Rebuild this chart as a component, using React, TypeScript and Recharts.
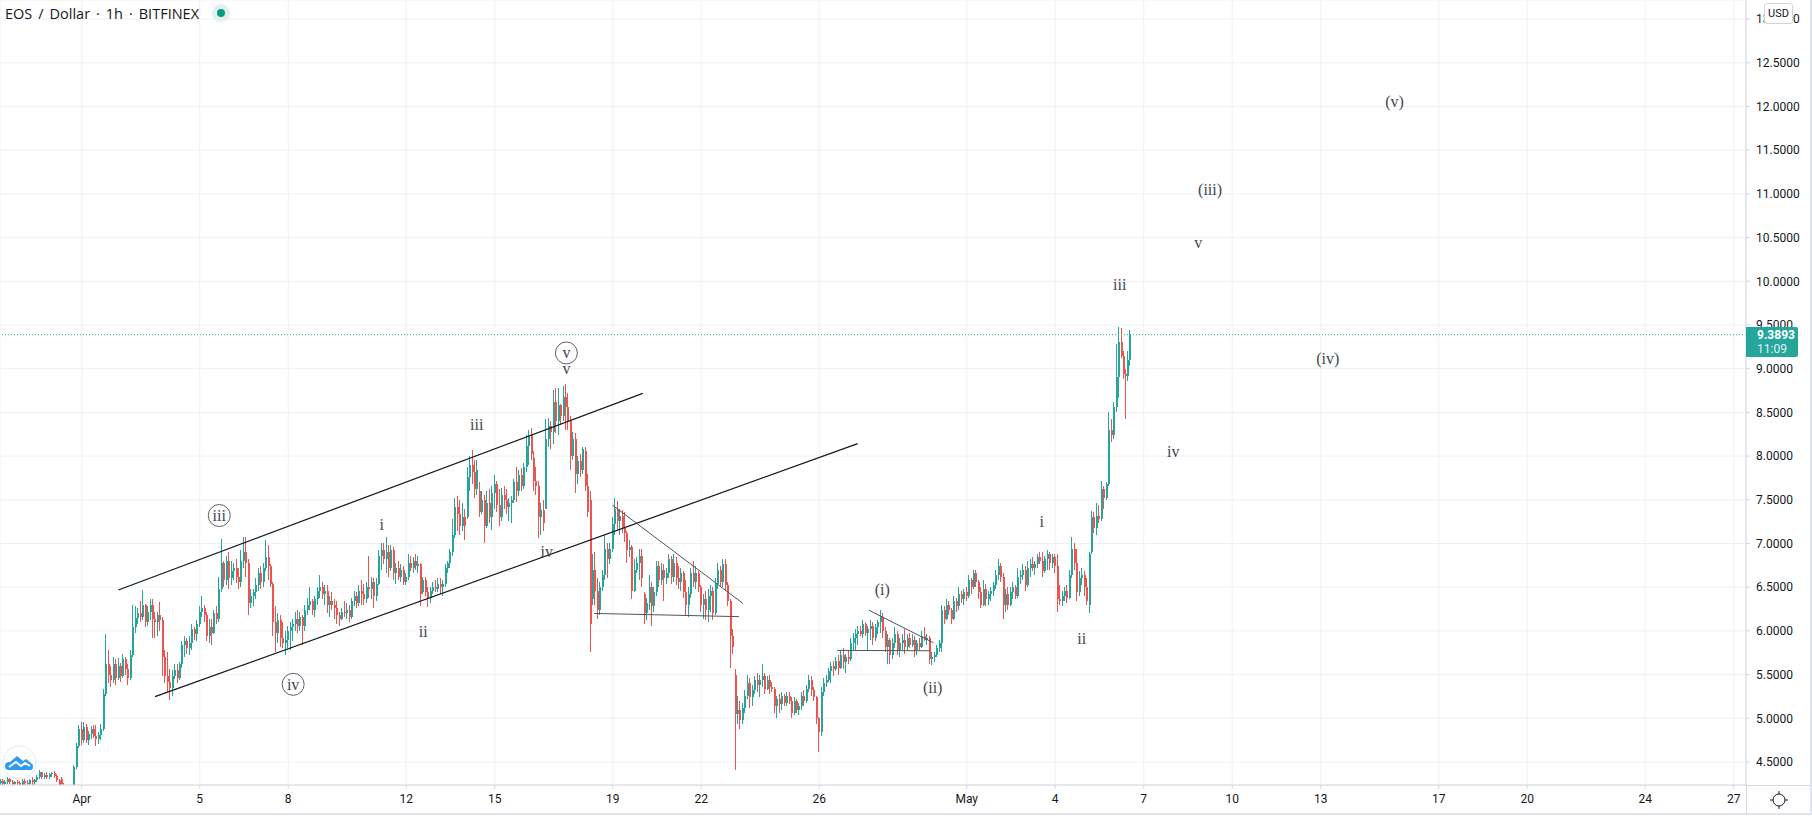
import {
  Bar,
  CartesianGrid,
  ComposedChart,
  ReferenceDot,
  ReferenceLine,
  XAxis,
  YAxis,
} from "recharts";

// hours since 1 Apr 00:00, open, high, low, close (2h candles)
const lateMarch = [
  [-66,4.26,4.31,4.24,4.28],[-64,4.28,4.30,4.24,4.25],[-62,4.25,4.29,4.22,4.27],[-60,4.27,4.33,4.25,4.31],[-58,4.31,4.32,4.25,4.27],
  [-56,4.27,4.29,4.23,4.25],[-54,4.25,4.28,4.22,4.27],[-52,4.27,4.29,4.24,4.26],[-50,4.26,4.28,4.22,4.24],[-48,4.24,4.30,4.23,4.28],
  [-46,4.28,4.31,4.24,4.26],[-44,4.26,4.29,4.23,4.25],[-42,4.25,4.30,4.24,4.29],[-40,4.29,4.33,4.24,4.27],[-38,4.27,4.30,4.24,4.29],
  [-36,4.29,4.35,4.27,4.33],[-34,4.33,4.41,4.31,4.38],[-32,4.38,4.39,4.31,4.33],[-30,4.33,4.37,4.30,4.35],[-28,4.35,4.38,4.31,4.33],
  [-26,4.33,4.37,4.30,4.36],[-24,4.36,4.39,4.33,4.37],[-22,4.37,4.40,4.32,4.34],[-20,4.34,4.36,4.27,4.29],[-18,4.29,4.31,4.22,4.24],
  [-16,4.30,4.33,4.22,4.25],[-14,4.24,4.26,4.17,4.19],[-12,4.19,4.22,4.15,4.20],[-10,4.20,4.23,4.16,4.18],[-8,4.18,4.22,4.15,4.21],
  [-6,4.22,4.47,4.20,4.44],[-4,4.44,4.72,4.42,4.68],[-2,4.68,4.92,4.66,4.88],
];

const firstRally = [
  [0,4.88,4.96,4.70,4.75],[2,4.75,4.96,4.72,4.90],[4,4.90,4.93,4.72,4.75],[6,4.75,4.85,4.70,4.82],[8,4.82,4.91,4.76,4.88],
  [10,4.88,4.92,4.78,4.80],[12,4.80,4.92,4.68,4.76],[14,4.76,4.84,4.71,4.81],[16,4.81,4.93,4.75,4.88],[18,4.88,5.33,4.85,5.28],
  [20,5.28,5.97,5.25,5.62],[22,5.62,5.78,5.40,5.50],[24,5.50,5.60,5.36,5.44],[26,5.44,5.70,5.40,5.62],[28,5.62,5.68,5.38,5.46],
  [30,5.46,5.69,5.44,5.60],[32,5.60,5.63,5.42,5.48],[34,5.48,5.74,5.46,5.68],[36,5.68,5.70,5.50,5.56],[38,5.56,5.62,5.38,5.46],
  [40,5.46,5.78,5.44,5.72],[42,5.72,6.30,5.70,6.05],[44,6.05,6.28,5.98,6.15],[46,6.15,6.26,6.08,6.20],[48,6.20,6.34,6.10,6.16],
  [50,6.16,6.47,6.12,6.30],[52,6.30,6.31,6.05,6.10],[54,6.10,6.28,6.06,6.22],[56,6.22,6.36,6.12,6.30],[58,6.30,6.36,5.92,6.14],
  [60,6.14,6.22,5.92,6.10],[62,6.10,6.22,5.94,6.18],[64,6.18,6.33,6.00,6.12],[66,6.12,6.16,5.48,5.70],[68,5.70,5.78,5.40,5.48],
  [70,5.48,5.76,5.30,5.42],[72,5.42,5.56,5.21,5.35],[74,5.35,5.55,5.25,5.48],[76,5.48,5.62,5.45,5.55],[78,5.55,5.62,5.40,5.46],
  [80,5.46,5.64,5.44,5.62],[82,5.62,5.88,5.58,5.84],[84,5.84,5.94,5.70,5.88],[86,5.88,5.92,5.74,5.80],[88,5.80,5.94,5.72,5.86],
  [90,5.86,6.08,5.78,6.02],[92,6.02,6.05,5.90,5.96],[94,5.96,6.12,5.88,6.08],[96,6.08,6.28,6.04,6.22],[98,6.22,6.40,6.16,6.26],
  [100,6.26,6.30,6.10,6.18],[102,6.18,6.22,5.88,5.94],[104,5.94,6.14,5.86,6.04],[106,6.04,6.14,5.84,5.98],[108,5.98,6.24,5.96,6.20],
  [110,6.20,6.28,6.08,6.14],[112,6.14,6.62,6.10,6.48],[114,6.48,7.05,6.44,6.78],[116,6.78,6.80,6.50,6.58],[118,6.58,6.86,6.52,6.80],
  [120,6.80,6.90,6.48,6.60],[122,6.60,6.80,6.52,6.68],[124,6.68,6.78,6.58,6.72],[126,6.72,6.82,6.55,6.62],[128,6.62,6.72,6.48,6.56],
  [130,6.56,6.92,6.50,6.80],[132,6.80,7.08,6.72,6.90],[134,6.90,7.08,6.62,6.78],[136,6.78,6.82,6.18,6.32],[138,6.32,6.48,6.26,6.40],
  [140,6.40,6.48,6.28,6.44],[142,6.44,6.60,6.36,6.52],[144,6.52,6.72,6.46,6.66],[146,6.66,6.74,6.48,6.56],[148,6.56,6.78,6.50,6.72],
  [150,6.72,7.04,6.68,6.84],[152,6.84,6.98,6.58,6.74],[154,6.74,6.76,6.50,6.54],[156,6.54,6.56,5.94,6.10],[158,6.10,6.28,5.76,5.98],
];

const channelBase = [
  [160,5.98,6.20,5.86,6.12],[162,6.12,6.18,5.82,5.92],[164,5.92,6.10,5.80,5.86],[166,5.86,6.00,5.72,5.90],[168,5.90,6.06,5.80,6.00],
  [170,6.00,6.10,5.78,6.04],[172,6.04,6.14,5.88,6.08],[174,6.08,6.22,6.00,6.14],[176,6.14,6.24,5.98,6.06],[178,6.06,6.22,6.00,6.16],
  [180,6.16,6.18,5.84,6.06],[182,6.06,6.30,6.00,6.24],[184,6.24,6.38,6.18,6.30],[186,6.30,6.50,6.24,6.34],[188,6.34,6.36,6.18,6.24],
  [190,6.24,6.40,6.16,6.36],[192,6.36,6.50,6.30,6.46],[194,6.46,6.64,6.38,6.50],[196,6.50,6.56,6.36,6.42],[198,6.42,6.52,6.30,6.46],
  [200,6.46,6.52,6.20,6.30],[202,6.30,6.40,6.16,6.34],[204,6.34,6.44,6.24,6.30],[206,6.30,6.36,6.14,6.26],[208,6.26,6.34,6.08,6.18],
  [210,6.18,6.22,6.06,6.14],[212,6.14,6.26,6.12,6.22],[214,6.22,6.34,6.16,6.20],[216,6.20,6.32,6.14,6.24],[218,6.24,6.30,6.10,6.16],
  [220,6.16,6.38,6.14,6.34],[222,6.34,6.46,6.28,6.40],[224,6.40,6.44,6.26,6.32],[226,6.32,6.52,6.28,6.46],[228,6.46,6.58,6.30,6.42],
  [230,6.42,6.54,6.30,6.36],[232,6.36,6.56,6.32,6.50],[234,6.50,6.86,6.38,6.48],[236,6.48,6.62,6.36,6.56],[238,6.56,6.60,6.26,6.40],
  [240,6.40,6.60,6.34,6.54],[242,6.54,6.92,6.52,6.86],[244,6.86,7.00,6.70,6.92],[246,6.92,7.00,6.76,6.82],[248,6.82,7.07,6.66,6.90],
  [250,6.90,6.98,6.62,6.72],[252,6.72,6.98,6.68,6.92],[254,6.92,6.96,6.58,6.66],[256,6.66,6.78,6.54,6.72],[258,6.72,6.80,6.58,6.62],
  [260,6.62,6.76,6.56,6.70],[262,6.70,6.74,6.52,6.56],[264,6.56,6.66,6.52,6.62],[266,6.62,6.88,6.58,6.78],[268,6.78,6.86,6.68,6.72],
  [270,6.72,6.84,6.66,6.80],[272,6.80,6.88,6.70,6.74],[274,6.74,6.86,6.66,6.76],[276,6.76,6.78,6.28,6.42],[278,6.44,6.62,6.42,6.58],
  [280,6.58,6.62,6.40,6.44],[282,6.44,6.50,6.27,6.38],[284,6.38,6.50,6.32,6.46],[286,6.46,6.56,6.42,6.50],[288,6.50,6.58,6.44,6.48],
  [290,6.48,6.60,6.44,6.54],[292,6.54,6.60,6.42,6.50],[294,6.50,6.58,6.40,6.54],[296,6.54,6.76,6.50,6.72],[298,6.72,6.80,6.66,6.78],
];

const channelTop = [
  [300,6.78,6.94,6.72,6.90],[302,6.90,7.28,6.86,7.10],[304,7.10,7.52,7.06,7.42],[306,7.42,7.54,7.14,7.34],[308,7.34,7.50,7.10,7.20],
  [310,7.20,7.46,7.14,7.30],[312,7.30,7.40,7.04,7.20],[314,7.30,7.88,7.28,7.76],[316,7.76,8.00,7.60,7.90],[318,7.90,8.07,7.68,7.82],
  [320,7.82,7.96,7.52,7.62],[322,7.62,7.96,7.56,7.84],[324,7.60,7.70,7.30,7.36],[326,7.36,7.60,7.34,7.50],[328,7.50,7.55,7.00,7.20],
  [330,7.20,7.60,7.18,7.46],[332,7.46,7.62,7.24,7.30],[334,7.30,7.66,7.16,7.58],[336,7.58,7.78,7.40,7.68],[338,7.68,7.72,7.36,7.44],
  [340,7.44,7.62,7.20,7.30],[342,7.30,7.64,7.26,7.56],[344,7.56,7.66,7.40,7.50],[346,7.50,7.62,7.34,7.42],[348,7.42,7.52,7.26,7.46],
  [350,7.46,7.54,7.24,7.50],[352,7.50,7.74,7.46,7.70],[354,7.70,7.88,7.48,7.60],[356,7.60,7.84,7.54,7.78],[358,7.78,7.86,7.60,7.66],
  [360,7.66,7.92,7.62,7.88],[362,7.88,8.24,7.82,8.12],[364,8.12,8.30,7.90,8.24],[366,8.24,8.32,7.96,8.02],[368,7.98,8.06,7.60,7.72],
  [370,7.72,7.88,7.56,7.66],[372,7.66,7.72,7.06,7.30],[374,7.30,7.46,7.10,7.38],[376,7.38,7.50,7.14,7.24],[378,7.40,8.42,7.40,8.20],
  [380,8.20,8.44,8.10,8.34],[382,8.34,8.40,8.08,8.28],[384,8.28,8.76,8.14,8.62],[386,8.62,8.78,8.26,8.40],[388,8.40,8.78,8.24,8.58],
  [390,8.58,8.60,8.36,8.46],[392,8.46,8.80,8.40,8.68],[394,8.68,8.83,8.30,8.56],[396,8.56,8.72,8.30,8.40],[398,8.40,8.46,7.84,8.00],
  [400,8.00,8.28,7.96,8.20],[402,8.20,8.26,7.58,7.80],[404,7.80,8.00,7.68,7.94],[406,7.94,8.02,7.76,7.84],[408,7.84,8.10,7.80,8.08],
  [410,8.06,8.10,7.60,7.66],[412,7.66,7.80,7.30,7.36],
];

const triangleA = [
  [414,7.50,7.60,5.76,6.08],[416,6.36,6.88,6.30,6.70],[418,6.70,6.90,6.30,6.46],[420,6.46,6.60,6.14,6.24],[422,6.24,6.56,6.18,6.50],
  [424,6.50,6.70,6.46,6.64],[426,6.64,7.10,6.58,6.94],[428,6.94,7.00,6.60,6.82],[430,6.82,7.00,6.76,6.94],[432,6.94,7.30,6.90,7.22],
  [434,7.22,7.52,7.10,7.40],[436,7.40,7.49,7.16,7.26],[438,7.26,7.40,7.10,7.32],[440,7.32,7.38,7.12,7.18],[442,7.18,7.36,7.02,7.12],
  [444,7.12,7.14,6.78,6.92],[446,6.92,7.04,6.84,6.96],[448,6.96,6.98,6.36,6.46],[450,6.46,6.82,6.44,6.70],[452,6.70,6.84,6.66,6.78],
  [454,6.78,6.94,6.58,6.86],[456,6.86,6.94,6.50,6.60],[458,6.42,6.44,6.08,6.20],[460,6.20,6.38,6.12,6.32],[462,6.32,6.64,6.24,6.50],
  [464,6.50,6.56,6.06,6.28],[466,6.28,6.50,6.22,6.44],[468,6.44,6.80,6.40,6.74],[470,6.74,6.80,6.50,6.58],[472,6.58,6.78,6.52,6.70],
  [474,6.70,6.76,6.34,6.60],[476,6.60,6.72,6.54,6.66],[478,6.66,6.88,6.60,6.82],[480,6.82,6.86,6.54,6.62],[482,6.62,6.88,6.56,6.78],
  [484,6.78,6.84,6.52,6.60],[486,6.60,6.74,6.48,6.56],[488,6.56,6.72,6.46,6.66],[490,6.66,6.68,6.38,6.44],[492,6.44,6.58,6.18,6.30],
  [494,6.30,6.50,6.16,6.42],[496,6.42,6.72,6.38,6.66],[498,6.66,6.80,6.50,6.56],[500,6.56,6.74,6.48,6.66],[502,6.66,6.68,6.44,6.50],
  [504,6.50,6.52,6.22,6.30],[506,6.30,6.42,6.14,6.36],[508,6.36,6.46,6.12,6.24],[510,6.24,6.48,6.10,6.40],[512,6.40,6.52,6.22,6.46],
  [514,6.46,6.50,6.12,6.20],[516,6.20,6.60,6.18,6.54],[518,6.54,6.78,6.48,6.70],[520,6.70,6.74,6.50,6.56],[522,6.56,6.82,6.50,6.76],
  [524,6.76,6.82,6.46,6.52],[526,6.52,6.56,6.28,6.34],[528,6.34,6.36,5.57,5.94],[530,5.94,6.02,5.74,5.82],
];

const crashBase = [
  [532,5.50,5.56,4.41,5.05],[534,5.05,5.25,4.94,5.10],[536,5.10,5.20,4.88,4.98],[538,4.98,5.18,4.94,5.12],[540,5.12,5.32,5.06,5.26],
  [542,5.26,5.50,5.22,5.40],[544,5.40,5.46,5.12,5.24],[546,5.24,5.38,5.14,5.32],[548,5.32,5.48,5.28,5.44],[550,5.44,5.52,5.30,5.38],
  [552,5.38,5.50,5.24,5.44],[554,5.44,5.62,5.36,5.48],[556,5.48,5.52,5.28,5.34],[558,5.34,5.48,5.32,5.44],[560,5.44,5.50,5.28,5.36],
  [562,5.36,5.42,5.30,5.34],[564,5.34,5.36,5.06,5.14],[566,5.14,5.26,5.00,5.22],[568,5.22,5.28,5.06,5.16],[570,5.16,5.30,5.10,5.26],
  [572,5.26,5.28,5.14,5.18],[574,5.18,5.30,5.14,5.26],[576,5.26,5.30,5.16,5.20],[578,5.20,5.24,5.00,5.06],[580,5.06,5.24,5.04,5.20],
  [582,5.20,5.22,5.06,5.10],[584,5.10,5.18,5.04,5.14],[586,5.14,5.30,5.10,5.26],[588,5.26,5.32,5.14,5.20],[590,5.20,5.38,5.18,5.34],
  [592,5.34,5.50,5.30,5.44],[594,5.44,5.48,5.26,5.32],[596,5.32,5.36,5.20,5.24],[598,5.24,5.26,4.94,5.00],[600,5.00,5.02,4.62,4.84],
  [602,4.84,5.36,4.80,5.30],[604,5.30,5.46,5.26,5.40],[606,5.40,5.50,5.36,5.44],[608,5.44,5.58,5.42,5.54],[610,5.54,5.64,5.40,5.60],
  [612,5.60,5.66,5.48,5.56],[614,5.56,5.70,5.54,5.66],[616,5.66,5.72,5.50,5.58],[618,5.58,5.78,5.56,5.72],[620,5.72,5.80,5.56,5.64],
  [622,5.64,5.74,5.52,5.70],[624,5.70,5.78,5.62,5.68],[626,5.68,5.92,5.66,5.86],[628,5.86,5.98,5.78,5.92],[630,5.92,6.02,5.78,5.96],
  [632,5.96,6.06,5.84,6.00],[634,6.00,6.06,5.94,5.96],[636,5.96,6.12,5.92,6.08],[638,6.08,6.10,5.94,5.98],[640,5.98,6.06,5.78,6.02],
  [642,6.02,6.12,5.90,6.06],[644,6.06,6.10,5.84,5.92],[646,5.92,6.08,5.88,6.04],[648,6.04,6.12,5.96,6.10],[650,6.10,6.24,5.98,6.16],
  [652,6.16,6.20,5.92,6.00],[654,6.00,6.04,5.76,5.82],[656,5.82,5.96,5.62,5.90],[658,5.90,5.92,5.62,5.72],[660,5.72,5.92,5.68,5.86],
  [662,5.86,6.04,5.80,5.96],[664,5.96,6.00,5.72,5.78],[666,5.78,5.92,5.70,5.86],[668,5.86,5.96,5.78,5.90],[670,5.90,6.02,5.74,5.82],
  [672,5.82,5.96,5.78,5.92],[674,5.92,5.98,5.80,5.84],[676,5.84,5.96,5.82,5.90],[678,5.90,5.94,5.70,5.78],[680,5.78,5.90,5.72,5.86],
  [682,5.86,5.92,5.78,5.82],[684,5.82,6.00,5.80,5.94],[686,5.94,6.04,5.88,5.90],[688,5.90,5.96,5.84,5.92],[690,5.92,5.94,5.62,5.68],
  [692,5.68,5.76,5.61,5.70],[694,5.70,5.76,5.64,5.72],[696,5.72,5.84,5.70,5.80],[698,5.80,5.90,5.76,5.86],
];

const mayRun = [
  [700,5.86,6.30,5.76,6.24],[702,6.24,6.28,6.08,6.14],[704,6.14,6.36,6.12,6.30],[706,6.30,6.34,6.18,6.24],[708,6.24,6.26,6.08,6.14],
  [710,6.14,6.40,6.12,6.34],[712,6.34,6.38,6.22,6.28],[714,6.28,6.50,6.24,6.42],[716,6.42,6.46,6.32,6.36],[718,6.36,6.48,6.30,6.44],
  [720,6.44,6.50,6.34,6.40],[722,6.40,6.64,6.38,6.58],[724,6.58,6.60,6.42,6.50],[726,6.50,6.70,6.48,6.66],[728,6.66,6.70,6.50,6.56],
  [730,6.56,6.58,6.36,6.44],[732,6.44,6.50,6.26,6.30],[734,6.30,6.58,6.28,6.48],[736,6.48,6.54,6.28,6.36],[738,6.36,6.46,6.30,6.42],
  [740,6.42,6.50,6.34,6.46],[742,6.46,6.56,6.40,6.52],[744,6.52,6.70,6.48,6.64],[746,6.64,6.82,6.58,6.74],[748,6.74,6.78,6.56,6.62],
  [750,6.62,6.66,6.14,6.30],[752,6.30,6.48,6.22,6.42],[754,6.42,6.50,6.24,6.30],[756,6.30,6.50,6.28,6.44],[758,6.44,6.56,6.36,6.50],
  [760,6.50,6.52,6.36,6.40],[762,6.40,6.72,6.38,6.62],[764,6.62,6.70,6.54,6.64],[766,6.64,6.76,6.58,6.70],[768,6.70,6.74,6.46,6.52],
  [770,6.52,6.80,6.50,6.72],[772,6.72,6.82,6.62,6.76],[774,6.76,6.84,6.68,6.72],[776,6.72,6.80,6.64,6.76],[778,6.76,6.88,6.72,6.84],
  [780,6.84,6.90,6.76,6.80],[782,6.80,6.90,6.62,6.68],[784,6.68,6.86,6.66,6.82],[786,6.82,6.92,6.70,6.88],[788,6.88,6.90,6.70,6.78],
  [790,6.78,6.88,6.72,6.84],[792,6.84,6.88,6.66,6.74],[794,6.74,6.88,6.22,6.36],[796,6.36,6.52,6.30,6.34],[798,6.34,6.46,6.28,6.40],
  [800,6.40,6.50,6.34,6.46],[802,6.46,6.52,6.32,6.38],[804,6.38,6.70,6.36,6.64],[806,6.64,7.08,6.60,6.94],[808,6.94,7.00,6.70,6.78],
  [810,6.78,6.94,6.34,6.44],[812,6.44,6.68,6.40,6.60],[814,6.60,6.72,6.52,6.64],[816,6.64,6.68,6.40,6.50],[818,6.50,6.60,6.30,6.34],
  [820,6.30,6.90,6.21,6.88],[822,6.90,7.37,6.88,7.30],[824,7.30,7.36,7.12,7.18],[826,7.18,7.46,7.10,7.32],[828,7.32,7.44,7.24,7.28],
  [830,7.28,7.72,7.26,7.62],[832,7.62,7.66,7.40,7.52],[834,7.52,7.70,7.50,7.68],[836,7.68,8.50,7.66,8.30],[838,8.30,8.42,8.16,8.24],
  [840,8.24,8.62,8.20,8.56],[842,8.56,9.28,8.50,8.90],[844,8.90,9.48,8.66,9.30],[846,9.30,9.47,9.12,9.14],[848,9.14,9.20,8.88,8.94],
  [850,8.94,9.00,8.42,8.92],[851,8.92,9.20,8.86,9.10],[852.5,9.10,9.44,9.03,9.3893],
];

const candles = [...lateMarch, ...firstRally, ...channelBase, ...channelTop, ...triangleA, ...crashBase, ...mayRun].map(
  ([hour, open, high, low, close]) => ({ hour, open, high, low, close, range: [low, high] })
);

const lastPrice = 9.3893;
const priceTicks = [4.5, 5, 5.5, 6, 6.5, 7, 7.5, 8, 8.5, 9, 9.5, 10, 10.5, 11, 11.5, 12, 12.5, 13];
const dateDays = [0, 4, 7, 11, 14, 18, 21, 25, 30, 33, 36, 39, 42, 46, 49, 53, 56];
const dateLabels = ["Apr", "5", "8", "12", "15", "19", "22", "26", "May", "4", "7", "10", "13", "17", "20", "24", "27"];

// trend lines: [hour, price, hour, price]
const channelLines = [
  [29.8, 6.468, 456.4, 8.718],
  [59.6, 5.247, 631.3, 8.142],
];
const triangleLines = [
  [431.7, 7.44, 537.8, 6.316],
  [416.8, 6.2, 534.7, 6.163],
  [640.5, 6.236, 692.8, 5.865],
  [614.7, 5.777, 690.1, 5.773],
];

// elliott wave counts: [text, hour, price, circled]
const waveLabels: [string, number, number, boolean][] = [
  ["iii", 111.9, 7.32, true],
  ["iv", 172, 5.389, true],
  ["v", 394.3, 9.18, true],
  ["v", 394.3, 9.0, false],
  ["i", 244, 7.223, false],
  ["ii", 277.9, 5.99, false],
  ["iii", 321.3, 8.356, false],
  ["iv", 378.3, 6.906, false],
  ["(i)", 651.3, 6.468, false],
  ["(ii)", 692.3, 5.35, false],
  ["i", 781, 7.25, false],
  ["ii", 813.5, 5.915, false],
  ["iii", 844.5, 9.966, false],
  ["iv", 888, 8.05, false],
  ["v", 908.4, 10.44, false],
  ["(iii)", 918, 11.05, false],
  ["(iv)", 1013.7, 9.115, false],
  ["(v)", 1068, 12.055, false],
];

const UP = "#26a69a";
const DOWN = "#ef5350";
const GRID = "#eff1f4";
const AXIS = "#d6d8de";
const TEXT = "#131722";
const UI_FONT = "Roboto, 'Open Sans', sans-serif";

function Candle(props: any) {
  const { x, y, width, height, payload } = props;
  const { open, high, low, close } = payload;
  const span = high - low || 1;
  const color = close >= open ? UP : DOWN;
  const cx = Math.round(x + width / 2) - 1;
  const top = y + ((high - Math.max(open, close)) / span) * height;
  const bottom = y + ((high - Math.min(open, close)) / span) * height;
  return (
    <g shapeRendering="crispEdges">
      <rect x={cx} y={y} width={1} height={height} fill={color} />
      <rect x={cx} y={top} width={2} height={Math.max(bottom - top, 1)} fill={color} />
    </g>
  );
}

function WaveMark(props: any) {
  const { cx, cy, text, circled } = props;
  return (
    <g>
      {circled && <circle cx={cx} cy={cy} r={11} fill="#fff" stroke="#5d606b" strokeWidth={1} />}
      <text
        x={cx}
        y={cy}
        textAnchor="middle"
        dominantBaseline="central"
        fontFamily="'Liberation Serif', serif"
        fontSize={16}
        fill="#434651"
      >
        {text}
      </text>
    </g>
  );
}

export default function App() {
  return (
    <div style={{ position: "fixed", left: 0, top: 0, width: 1812, height: 820, background: "#fff", overflow: "hidden" }}>
      <ComposedChart
        width={1812}
        height={820}
        data={candles}
        margin={{ top: 0, right: 0, bottom: 0, left: 0 }}
        barSize={2}
      >
        <CartesianGrid stroke={GRID} strokeWidth={1} />
        <XAxis
          dataKey="hour"
          type="number"
          scale="linear"
          domain={[-66.5, 1354]}
          allowDataOverflow
          ticks={dateDays.map((d) => d * 24)}
          interval={0}
          tickFormatter={(v: number) => dateLabels[dateDays.indexOf(v / 24)]}
          height={35}
          tickSize={4}
          tickMargin={5}
          stroke={AXIS}
          tick={{ fill: TEXT, fontSize: 12, fontFamily: UI_FONT }}
        />
        <YAxis
          orientation="right"
          type="number"
          domain={[4.2368, 13.2185]}
          allowDataOverflow
          ticks={priceTicks}
          interval={0}
          tickFormatter={(v: number) => v.toFixed(4)}
          width={66}
          tickSize={4}
          tickMargin={6}
          stroke={AXIS}
          tick={{ fill: TEXT, fontSize: 12, fontFamily: UI_FONT, textAnchor: "start" }}
        />
        <Bar dataKey="range" shape={<Candle />} isAnimationActive={false} />
        <ReferenceLine y={lastPrice} stroke={UP} strokeDasharray="1 2" />
        {channelLines.map(([x1, y1, x2, y2], i) => (
          <ReferenceLine
            key={`channel-${i}`}
            segment={[{ x: x1, y: y1 }, { x: x2, y: y2 }]}
            stroke="#131722"
            strokeWidth={1.25}
          />
        ))}
        {triangleLines.map(([x1, y1, x2, y2], i) => (
          <ReferenceLine
            key={`triangle-${i}`}
            segment={[{ x: x1, y: y1 }, { x: x2, y: y2 }]}
            stroke="#50535e"
            strokeWidth={1}
          />
        ))}
        {waveLabels.map(([text, hour, price, circled], i) => (
          <ReferenceDot
            key={`wave-${i}`}
            x={hour}
            y={price}
            r={0}
            ifOverflow="visible"
            shape={(p: any) => <WaveMark {...p} text={text} circled={circled} />}
          />
        ))}
      </ComposedChart>

      {/* legend and overlay pieces from the TradingView frame */}
      <div
        style={{
          position: "absolute",
          left: 5,
          top: 4,
          font: "14.5px 'Open Sans', sans-serif",
          wordSpacing: 2.2,
          color: TEXT,
          whiteSpace: "nowrap",
        }}
      >
        EOS / Dollar · 1h · BITFINEX
      </div>
      <div style={{ position: "absolute", left: 212, top: 4, width: 18, height: 18, borderRadius: 9, background: "#e0f1ef" }} />
      <div style={{ position: "absolute", left: 217, top: 9, width: 8, height: 8, borderRadius: 4, background: "#089981" }} />

      <div
        style={{
          position: "absolute",
          left: 1764,
          top: 3,
          width: 27,
          height: 19,
          background: "#fff",
          border: "1px solid #d1d4dc",
          borderRadius: 3,
          font: `11px/19px ${UI_FONT}`,
          color: TEXT,
          textAlign: "center",
        }}
      >
        USD
      </div>

      <div
        style={{
          position: "absolute",
          left: 1746,
          top: 327,
          width: 52,
          height: 30,
          background: UP,
          borderRadius: "0 2px 2px 0",
          font: `bold 12px/14px ${UI_FONT}`,
          color: "#fff",
          paddingTop: 1,
          boxSizing: "border-box",
          textIndent: 11,
        }}
      >
        <div>9.3893</div>
        <div style={{ fontWeight: 400, opacity: 0.85 }}>11:09</div>
      </div>

      {/* frame edges */}
      <div style={{ position: "absolute", left: 1746, top: 785, width: 1, height: 28, background: AXIS }} />
      <div style={{ position: "absolute", left: 0, top: 813, width: 1812, height: 2, background: "#e0e3eb" }} />
      <div style={{ position: "absolute", left: 1810, top: 0, width: 2, height: 815, background: "#e0e3eb" }} />
      <div style={{ position: "absolute", left: 1746, top: 785, width: 64, height: 1, background: AXIS }} />

      <svg style={{ position: "absolute", left: 1769, top: 790 }} width={20} height={20} viewBox="0 0 20 20">
        <circle cx={10} cy={10} r={6} fill="none" stroke={TEXT} strokeWidth={1} />
        <path d="M10 1v3M10 16v3M1 10h3M16 10h3" stroke={TEXT} strokeWidth={1} />
      </svg>

      <svg style={{ position: "absolute", left: 2, top: 745 }} width={35} height={35} viewBox="0 0 35 35">
        <circle cx={17.5} cy={17.5} r={16.5} fill="#fff" stroke="#e6e8ec" strokeWidth={1} />
        <path d="M7 25a4 4 0 0 1 0-8l1 0 7-6 6 5 3-2 5 4a4 4 0 0 1 0 7z" fill="#2e9bf0" />
        <path d="M7 22l7-5 5 4 4-3 5 3" fill="none" stroke="#fff" strokeWidth={2} />
      </svg>
    </div>
  );
}
